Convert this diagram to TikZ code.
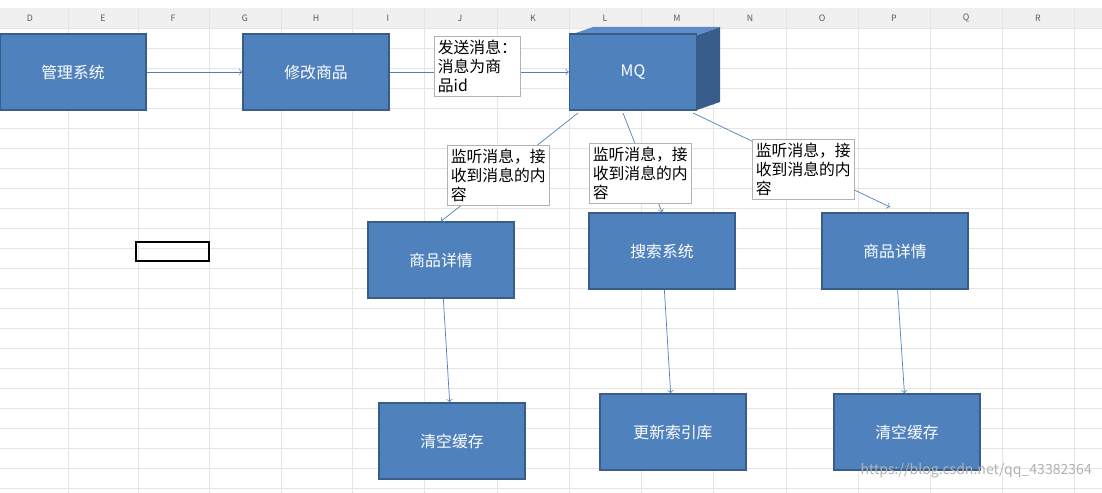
\documentclass[tikz,border=0pt]{standalone}
\usepackage{fontspec}
\setmainfont{Noto Sans CJK SC}
\usepackage{tikz}
\tikzstyle{block}=[fill={rgb,255:red,79;green,129;blue,189}, draw={rgb,255:red,56;green,93;blue,138}, line width=0.8pt, text=white, minimum width=2.92cm, minimum height=1.52cm, font=\small]
\tikzstyle{note}=[fill=white, draw=gray!60, align=left, font=\small, inner sep=2pt, anchor=north west]
\tikzstyle{link}=[->, draw={rgb,255:red,79;green,129;blue,189}]
\tikzstyle{grid line}=[draw=gray!20, line width=0.4pt]
\pgfdeclarelayer{background}
\pgfsetlayers{background,main}
\begin{document}
\begin{tikzpicture}[x=0.02cm, y=-0.02cm]
        	\useasboundingbox (0,0) rectangle (1102,493);
        	\begin{pgfonlayer}{background}
        		\fill[white] (0,0) rectangle (1102,493);
        		\fill[gray!12] (0,8) rectangle (1102,28);
        		\foreach \x in {68,138,209,281,352,424,497,569,641,713,786,858,930,1002,1074}
        			\draw [style=grid line] (\x,8) -- (\x,493);
        		\foreach \y in {28,48,...,488}
        			\draw [style=grid line] (0,\y) -- (1102,\y);
        		\foreach \c/\x in {D/30,E/103,F/173,G/245,H/316,I/388,J/460,K/533,L/605,M/677,N/750,O/822,P/894,Q/966,R/1038}
        			\node [font=\tiny, text=gray!70!black] (col\c) at (\x,18) {\c};
        		\draw [line width=1.5pt] (136,242) rectangle (209,261);
        	\end{pgfonlayer}
        		\node [style=block] (admin) at (73,72) {管理系统};
        		\node [style=block] (edit) at (316,72) {修改商品};
        		% MQ box with depth
        		\fill [fill={rgb,255:red,56;green,93;blue,138}] (697,35) -- (720,27) -- (720,102) -- (697,110) -- cycle;
        		\fill [fill={rgb,255:red,95;green,140;blue,200}] (570,35) -- (593,27) -- (720,27) -- (697,35) -- cycle;
        		\node [style=block, minimum width=2.54cm] (mq) at (633,72) {MQ};
        		\node [style=block] (detailA) at (441,260) {商品详情};
        		\node [style=block] (search) at (662,251) {搜索系统};
        		\node [style=block] (detailB) at (895,251) {商品详情};
        		\node [style=block] (clearA) at (452,441) {清空缓存};
        		\node [style=block] (index) at (673,432) {更新索引库};
        		\node [style=block] (clearB) at (907,432) {清空缓存};
        		\coordinate (mqA) at (578,113);
        		\coordinate (mqB) at (623,113);
        		\coordinate (mqC) at (693,113);
        		\coordinate (endC) at (890,207);
        		\draw [style=link] (admin) to (edit);
        		\draw [style=link] (edit.east) to (mq.west);
        		\draw [style=link] (mqA) to (detailA.north);
        		\draw [style=link] (mqB) to (search.north);
        		\draw [style=link] (mqC) to (endC);
        		\draw [style=link] (detailA) to (clearA);
        		\draw [style=link] (search) to (index);
        		\draw [style=link] (detailB) to (clearB);
        		\node [style=note] (send) at (434,36) {发送消息：\\消息为商\\品id};
        		\node [style=note] (listenA) at (447,145) {监听消息，接\\收到消息的内\\容};
        		\node [style=note] (listenB) at (589,143) {监听消息，接\\收到消息的内\\容};
        		\node [style=note] (listenC) at (752,139) {监听消息，接\\收到消息的内\\容};
        		\node [font=\footnotesize, text=gray!60, anchor=south east] (mark) at (1098,484) {https://blog.csdn.net/qq\_43382364};
\end{tikzpicture}
\end{document}
